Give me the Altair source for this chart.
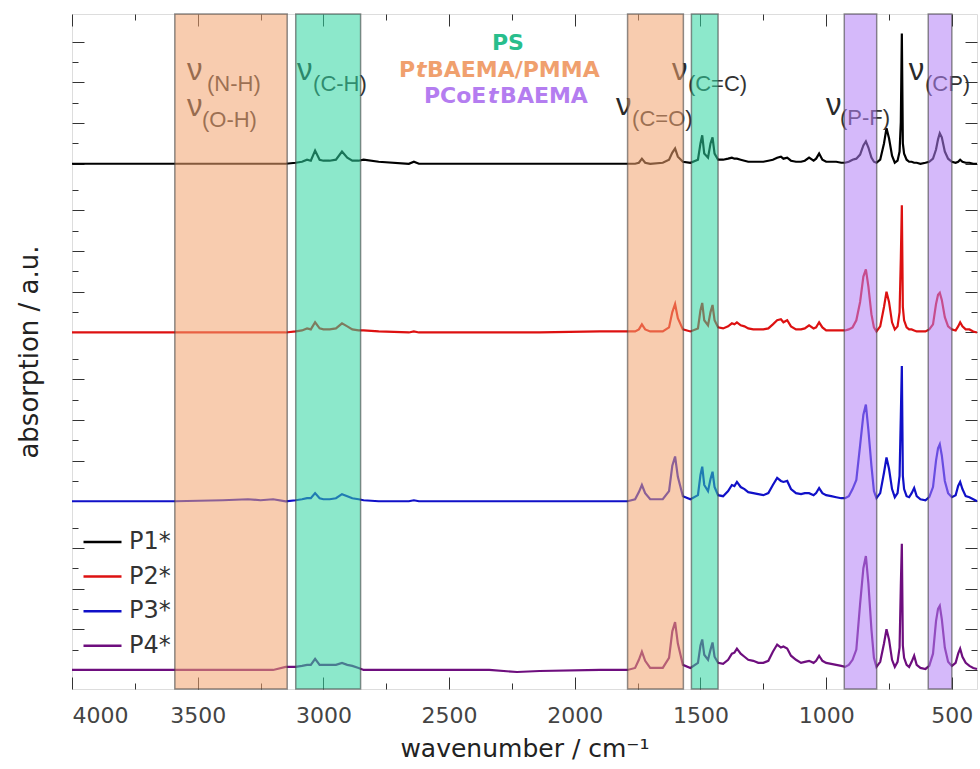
import altair as alt
import pandas as pd

# ---------------- data ----------------
wavenumber = [
    4000, 3700, 3590, 3400, 3300, 3250, 3200, 3150, 3110, 3085,
    3065, 3050, 3033, 3015, 3000, 2975, 2950, 2926, 2905, 2885,
    2860, 2840, 2780, 2660, 2640, 2620, 2400, 2360, 2340, 2230,
    2140, 1900, 1790, 1760, 1745, 1733, 1720, 1700, 1650, 1625,
    1612, 1601, 1590, 1570, 1540, 1510, 1500, 1493, 1485, 1470,
    1460, 1452, 1444, 1430, 1410, 1390, 1375, 1365, 1355, 1340,
    1325, 1310, 1290, 1270, 1250, 1230, 1212, 1195, 1180, 1170,
    1155, 1140, 1120, 1100, 1085, 1068, 1050, 1040, 1028, 1015,
    1000, 980, 960, 940, 925, 910, 895, 880, 865, 852,
    842, 832, 820, 810, 800, 785, 770, 760, 750, 738,
    727, 716, 708, 703, 699, 695, 690, 680, 670, 660,
    650, 640, 625, 605, 590, 575, 563, 555, 548, 540,
    528, 515, 500, 485, 475, 467, 458, 445, 430, 415,
    400,
]

p1 = [
    0, 0, 0, 0, 0, 0, 0, 0, 1, 2,
    4, 3, 13, 4, 3, 3, 4, 12, 6, 3,
    3, 4, 2, 0, 2, 0, 0, 0, 0, 0,
    0, 0, 0, 0, 1, 5, 1, 0, 1, 4,
    11, 15, 7, 2, 1, 4, 20, 28, 10, 6,
    20, 26, 10, 4, 4, 5, 6, 5, 5, 4,
    3, 2, 2, 2, 2, 3, 4, 6, 7, 5,
    6, 3, 2, 2, 3, 6, 3, 5, 10, 4,
    2, 2, 2, 1, 1, 2, 4, 5, 9, 18,
    22, 16, 6, 2, 1, 4, 20, 35, 25, 8,
    1, 3, 12, 41, 128, 20, 10, 4, 2, 2,
    1, 1, 0, 1, 2, 5, 14, 24, 30, 26,
    12, 5, 2, 1, 2, 4, 2, 1, 1, 0,
    0,
]
p2 = [
    0, 0, 0, 0, 0, 0, 0, 0, 1, 2,
    4, 3, 10, 4, 3, 3, 4, 9, 6, 3,
    2, 2, 1, 0, 1, 0, 0, 0, 0, 0,
    0, 1, 1, 1, 3, 8, 3, 1, 1, 5,
    20, 28, 14, 3, 1, 4, 22, 29, 12, 7,
    20, 27, 12, 5, 4, 6, 9, 8, 10, 7,
    6, 4, 3, 3, 3, 4, 8, 12, 13, 10,
    12, 6, 3, 3, 4, 7, 4, 5, 10, 5,
    2, 2, 2, 2, 2, 3, 5, 12, 30, 55,
    62, 45, 18, 5, 1, 6, 25, 40, 30, 10,
    3, 6, 20, 73, 125, 25, 12, 5, 3, 3,
    2, 1, 1, 1, 3, 8, 28, 37, 39, 32,
    15, 6, 3, 2, 6, 10, 6, 3, 3, 1,
    0,
]
p3 = [
    0, 0, 0, 1, 2, 1, 2, 0, 1, 2,
    3, 3, 8, 3, 2, 2, 3, 7, 5, 3,
    2, 1, 0, 0, 1, 0, 0, 0, 0, 0,
    0, 0, 0, 2, 9, 16, 8, 2, 2, 10,
    35, 44, 24, 5, 2, 6, 26, 34, 16, 10,
    22, 29, 14, 6, 5, 10, 16, 15, 19, 14,
    12, 9, 8, 7, 6, 8, 16, 23, 20, 19,
    20, 12, 8, 7, 8, 8, 6, 8, 13, 8,
    6, 5, 4, 3, 3, 5, 12, 21, 55, 85,
    95, 70, 35, 10, 3, 8, 28, 43, 32, 12,
    4, 8, 25, 84, 133, 25, 12, 5, 4, 8,
    13, 5, 2, 1, 4, 14, 40, 52, 56, 45,
    20, 8, 4, 6, 15, 19, 12, 5, 4, 2,
    0,
]
p4 = [
    0, 0, 0, 0, 0, 0, 0, 3, 3, 4,
    5, 5, 11, 5, 5, 5, 5, 7, 5, 4,
    2, 0, 0, 0, 0, 0, 0, 0, 0, -2,
    -1, 0, 0, 2, 10, 18, 9, 2, 2, 12,
    38, 47, 26, 5, 2, 7, 24, 30, 15, 10,
    20, 27, 13, 7, 6, 10, 16, 17, 21, 16,
    13, 10, 9, 7, 7, 9, 18, 25, 22, 23,
    21, 14, 10, 7, 8, 9, 7, 9, 14, 9,
    7, 6, 5, 4, 3, 5, 10, 20, 65, 100,
    112, 85, 40, 12, 3, 8, 26, 40, 30, 10,
    3, 8, 22, 83, 124, 24, 12, 5, 3, 8,
    14, 5, 2, 1, 4, 16, 48, 60, 63, 50,
    22, 8, 4, 7, 16, 21, 13, 7, 4, 2,
    1,
]

series_names = ["P1*", "P2*", "P3*", "P4*"]
series_colors = ["#000000", "#DD1111", "#1010C8", "#6E0E7E"]
series_offsets = [516.2, 350.4, 184.5, 18.7]   # vertical stacking offsets (a.u.)

band_start = [3591, 3110, 1790, 1536, 928, 594]
band_end = [3144, 2852, 1568, 1430, 799, 500]
band_fill = ["#F2A36E", "#2DD6A0", "#F2A36E", "#2DD6A0", "#B380F5", "#B380F5"]

nu_x = [3543, 3543, 3105, 1836, 1613, 1001, 671]
nu_y = [598.5, 563.5, 598.5, 564.1, 598.5, 564.1, 598.5]
sub_text = ["(N-H)", "(O-H)", "(C-H)", "(C=O)", "(C=C)", "(P-F)", "(CP)"]
sub_x = [3463, 3483, 3041, 1772, 1550, 945, 607]
sub_y = [587.5, 552.3, 587.5, 553.3, 587.5, 554.3, 587.5]

ps_text = ["PS"]
ps_x = [2266]
ps_y = [628]

seg_text = ["P", "BAEMA/PMMA", "PCoE", "BAEMA"]
seg_x = [2699, 2588, 2600, 2297]
seg_y = [601.5, 601.5, 576, 576]
seg_color = ["#F0A06E", "#F0A06E", "#B47DF0", "#B47DF0"]
ital_text = ["t", "t"]
ital_x = [2632, 2345]
ital_y = [601.5, 576]
ital_color = ["#F0A06E", "#B47DF0"]

x_major = [4000, 3500, 3000, 2500, 2000, 1500, 1000, 500]
x_minor = [3750, 3250, 2750, 2250, 1750, 1250, 750]
y_major = [o + 20 * k for o in series_offsets for k in (0, 2, 4, 6) if o + 20 * k < 650]
y_minor = [o + 20 * k for o in series_offsets for k in (1, 3, 5, 7) if o + 20 * k < 650]

# ---------------- tables ----------------
assert all(len(s) == len(wavenumber) for s in (p1, p2, p3, p4))
rows = []
for name, off, vals in zip(series_names, series_offsets, [p1, p2, p3, p4]):
    for w, v in zip(wavenumber, vals):
        rows.append({"wavenumber": w, "absorption": off + v, "series": name})
spec = pd.DataFrame(rows)
bands = pd.DataFrame({"start": band_start, "end": band_end, "fill": band_fill})
nu_df = pd.DataFrame({"x": nu_x, "y": nu_y, "t": ["ν"] * len(nu_x)})
sub_df = pd.DataFrame({"x": sub_x, "y": sub_y, "t": sub_text})
ps_df = pd.DataFrame({"x": ps_x, "y": ps_y, "t": ps_text})
seg_df = pd.DataFrame({"x": seg_x, "y": seg_y, "t": seg_text, "c": seg_color})
ital_df = pd.DataFrame({"x": ital_x, "y": ital_y, "t": ital_text, "c": ital_color})

W, H = 905, 675
FONT = "Liberation Sans"
WIDE = "DejaVu Sans"
XS = alt.Scale(domain=[4000, 400], nice=False, zero=False)
YS = alt.Scale(domain=[0, 663.4], nice=False, zero=False)


def tick_axis(orient, values, size, offset):
    return alt.Axis(orient=orient, values=values, tickSize=size, offset=offset,
                    labels=False, domain=False, title=None, grid=False,
                    tickColor="#333333", tickWidth=1)


lines = alt.Chart(spec).mark_line(strokeWidth=2.2).encode(
    x=alt.X("wavenumber:Q", scale=XS,
            axis=alt.Axis(orient="bottom", title="wavenumber / cm⁻¹", ticks=False,
                          domain=False, grid=False, values=x_major, format="d",
                          labelFont=WIDE, labelFontSize=22, labelColor="#444444",
                          labelPadding=16, titleFont=WIDE, titleFontSize=25,
                          titleFontWeight="normal", titleColor="#222222",
                          titlePadding=10)),
    y=alt.Y("absorption:Q", scale=YS,
            axis=alt.Axis(orient="left", title="absorption / a.u.", ticks=False,
                          labels=False, domain=False, grid=False,
                          titleFont=WIDE, titleFontSize=26, titleFontWeight="normal",
                          titleColor="#222222", titlePadding=30)),
    color=alt.Color("series:N",
                    scale=alt.Scale(domain=series_names, range=series_colors),
                    legend=alt.Legend(orient="none", legendX=10, legendY=517, title=None,
                                      symbolType="stroke", symbolSize=1444,
                                      symbolStrokeWidth=2.5, labelFont=WIDE,
                                      labelFontSize=24, labelColor="#333333",
                                      clipHeight=22, rowPadding=10.6, labelOffset=6,
                                      padding=0)),
    detail="series:N",
)

nu = alt.Chart(nu_df).mark_text(align="left", baseline="alphabetic", fontSize=31,
                                color="#2A2A2A", font=FONT).encode(
    x=alt.X("x:Q", scale=XS, axis=tick_axis("top", x_major, 12, -H)),
    y=alt.Y("y:Q", scale=YS, axis=tick_axis("right", y_major, 12, -W)),
    text="t:N",
)
sub = alt.Chart(sub_df).mark_text(align="left", baseline="alphabetic", fontSize=22,
                                  color="#333333", font=FONT).encode(
    x=alt.X("x:Q", scale=XS, axis=tick_axis("top", x_minor, 6, -H)),
    y=alt.Y("y:Q", scale=YS, axis=tick_axis("right", y_minor, 6, -W)),
    text="t:N",
)
ps = alt.Chart(ps_df).mark_text(align="center", baseline="alphabetic", fontSize=22,
                                fontWeight="bold", color="#28BE8C",
                                font=WIDE).encode(
    x=alt.X("x:Q", scale=XS, axis=tick_axis("bottom", x_major, 12, -H)),
    y=alt.Y("y:Q", scale=YS, axis=tick_axis("left", y_major, 12, -W)),
    text="t:N",
)
seg = alt.Chart(seg_df).mark_text(align="left", baseline="alphabetic", fontSize=22,
                                  fontWeight="bold", font=WIDE).encode(
    x=alt.X("x:Q", scale=XS, axis=tick_axis("bottom", x_minor, 6, -H)),
    y=alt.Y("y:Q", scale=YS, axis=tick_axis("left", y_minor, 6, -W)),
    text="t:N",
    color=alt.Color("c:N", scale=None),
)
ital = alt.Chart(ital_df).mark_text(align="left", baseline="alphabetic", fontSize=22,
                                    fontWeight="bold", fontStyle="italic",
                                    font=WIDE).encode(
    x=alt.X("x:Q", scale=XS, axis=None),
    y=alt.Y("y:Q", scale=YS, axis=None),
    text="t:N",
    color=alt.Color("c:N", scale=None),
)
band_layer = alt.Chart(bands).mark_rect(fillOpacity=0.55, stroke="#444444",
                                        strokeOpacity=0.6, strokeWidth=1.5).encode(
    x=alt.X("start:Q", scale=XS, axis=None),
    x2="end:Q",
    fill=alt.Fill("fill:N", scale=None),
)

chart = alt.layer(lines, nu, sub, ps, seg, ital, band_layer).resolve_axis(
    x="independent", y="independent"
).properties(
    width=W, height=H,
    autosize=alt.AutoSizeParams(type="none"),
    padding={"left": 72, "top": 14, "right": 3, "bottom": 80},
    background="white",
).configure_view(stroke="#333333", strokeWidth=1.5).configure(font=FONT)

chart.save("out.html", embed_options={"renderer": "svg", "actions": False})
